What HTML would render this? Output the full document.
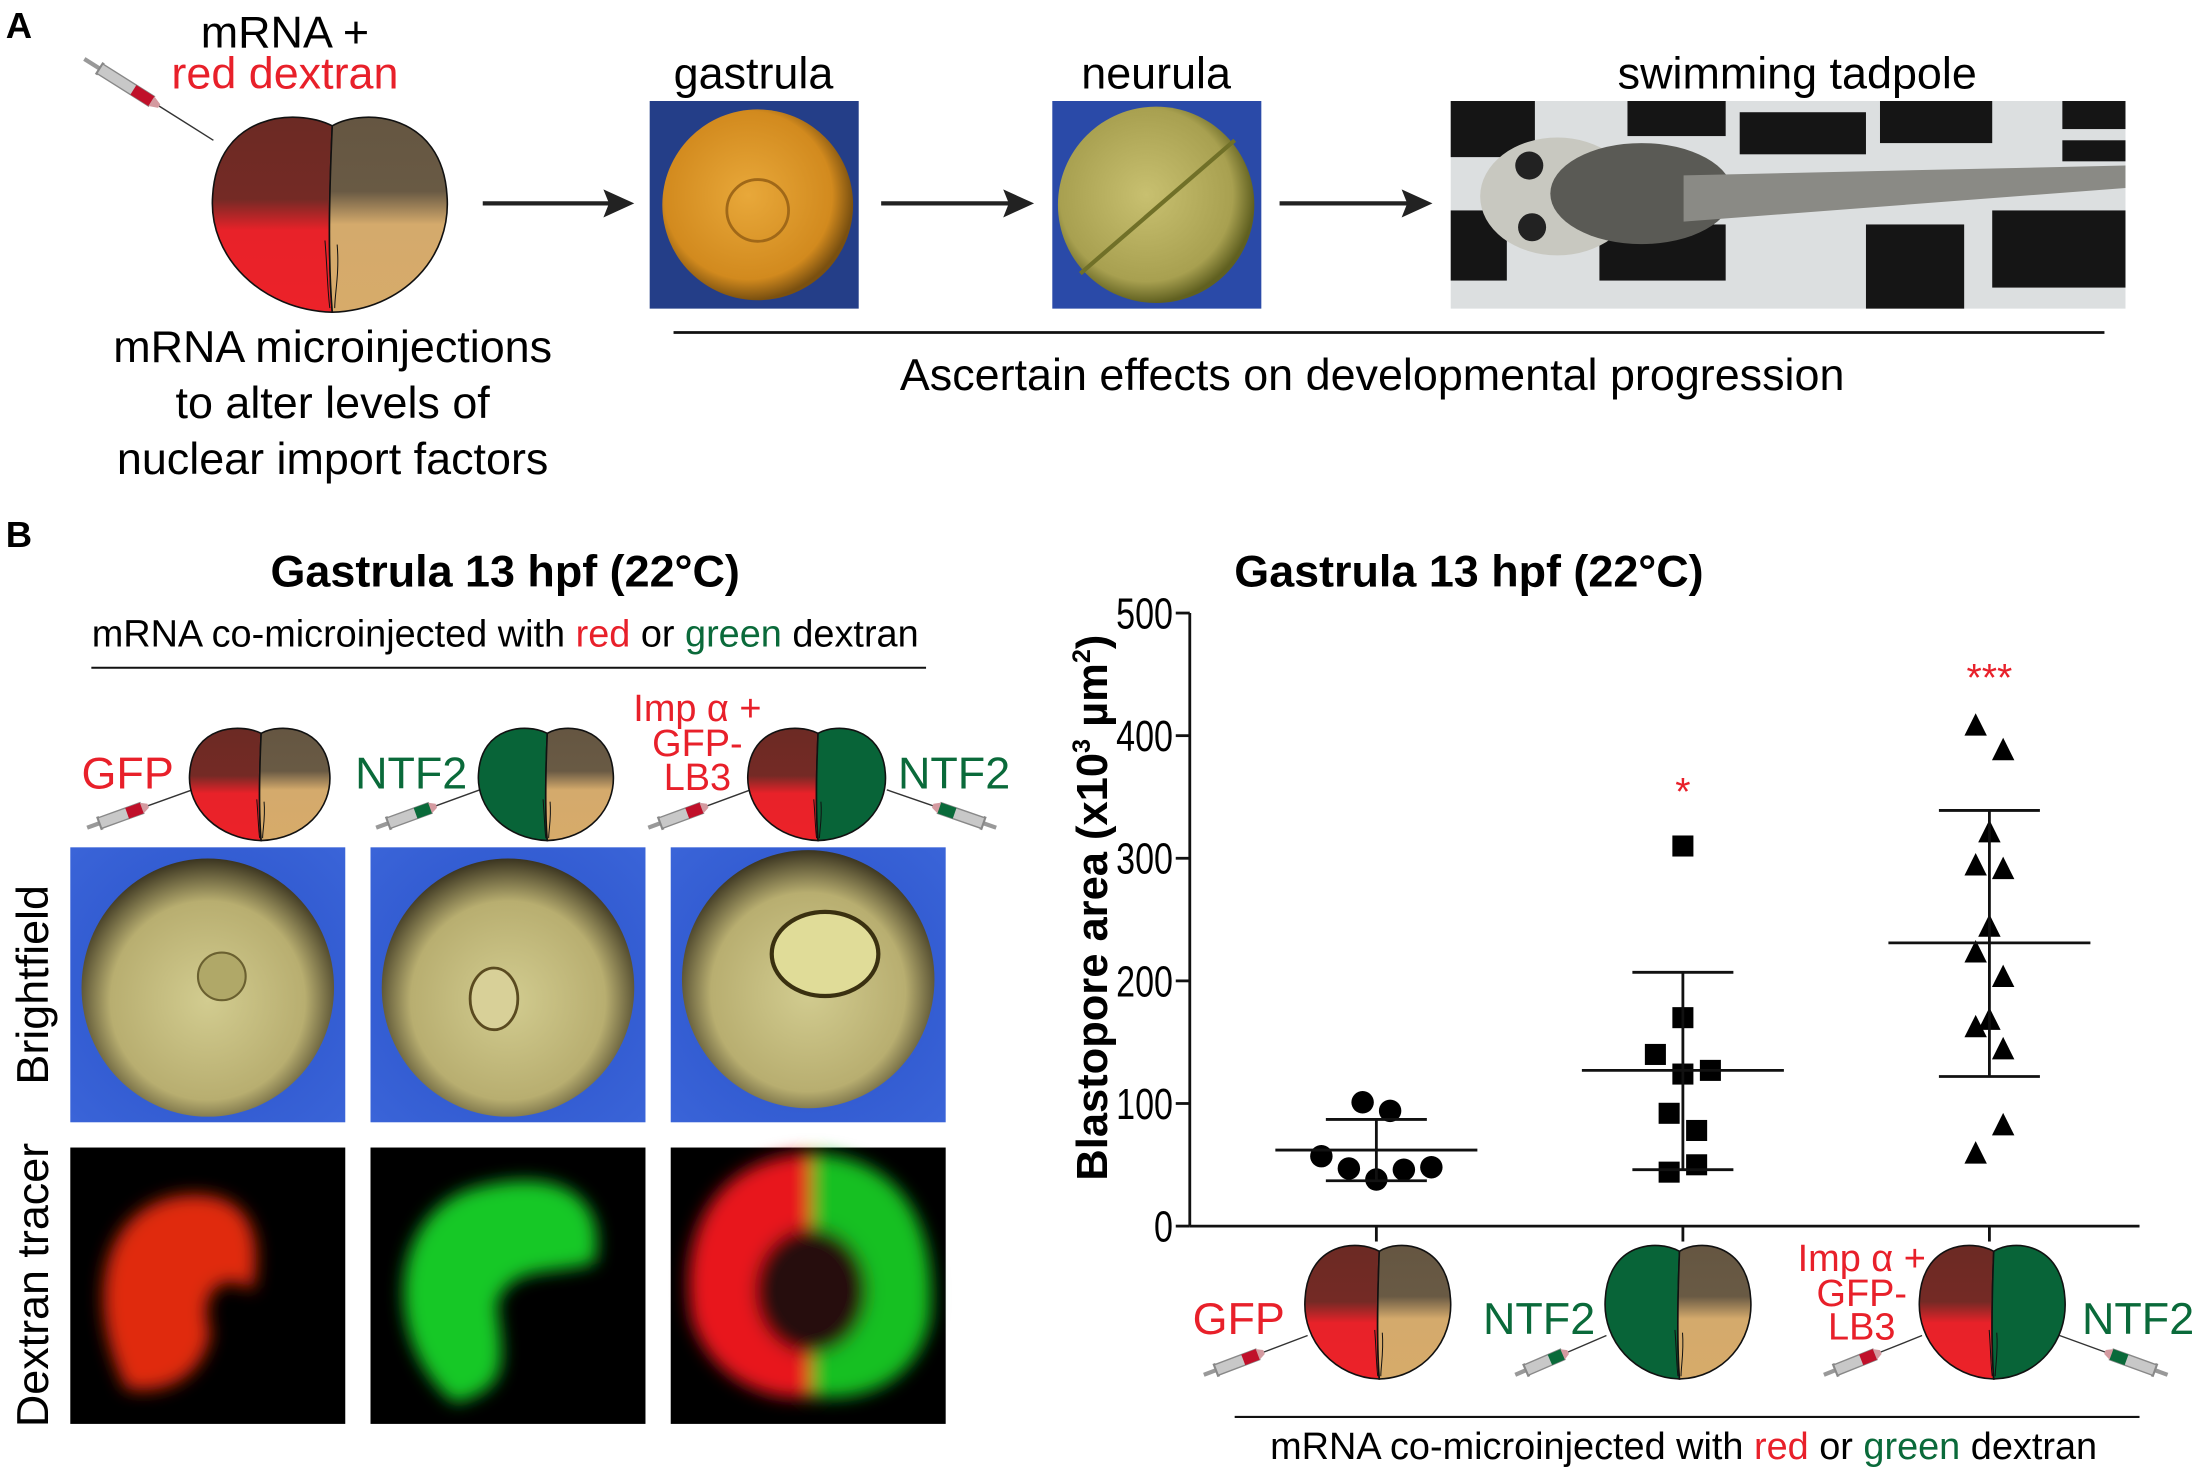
<!DOCTYPE html>
<html><head><meta charset="utf-8"><style>
html,body{margin:0;padding:0;background:#fff}
svg{display:block}
text{font-family:"Liberation Sans",Arial,sans-serif}
</style></head><body>
<svg id="fig" width="2200" height="1473" viewBox="0 0 1568 1050" xmlns="http://www.w3.org/2000/svg">
<defs>
<linearGradient id="gRed" x1="0" y1="0" x2="0" y2="1"><stop offset="0" stop-color="#6c2a24"/><stop offset="0.42" stop-color="#742a25"/><stop offset="0.58" stop-color="#e82229"/><stop offset="1" stop-color="#ec2229"/></linearGradient>
<linearGradient id="gTan" x1="0" y1="0" x2="0" y2="1"><stop offset="0" stop-color="#655642"/><stop offset="0.38" stop-color="#695a44"/><stop offset="0.55" stop-color="#d4aa6c"/><stop offset="1" stop-color="#d7ab6a"/></linearGradient>
<radialGradient id="gGast" cx="0.45" cy="0.45" r="0.55"><stop offset="0" stop-color="#e8a83a"/><stop offset="0.8" stop-color="#d28a1e"/><stop offset="1" stop-color="#7a5010"/></radialGradient>
<radialGradient id="gNeur" cx="0.45" cy="0.45" r="0.55"><stop offset="0" stop-color="#c8c070"/><stop offset="0.8" stop-color="#a8a050"/><stop offset="1" stop-color="#606020"/></radialGradient>
<radialGradient id="gBF" cx="0.5" cy="0.55" r="0.55"><stop offset="0" stop-color="#d2cc90"/><stop offset="0.7" stop-color="#b8ae70"/><stop offset="1" stop-color="#3a3420"/></radialGradient>
<radialGradient id="gBlue" cx="0.5" cy="0.5" r="0.7"><stop offset="0" stop-color="#2850c8"/><stop offset="1" stop-color="#3a64d8"/></radialGradient>
<filter id="blur" x="-20%" y="-20%" width="140%" height="140%"><feGaussianBlur stdDeviation="6"/></filter>
</defs>

<!-- Panel A -->
<text x="4" y="27" font-size="26" font-weight="bold">A</text>
<text x="203" y="34" font-size="32" text-anchor="middle">mRNA +</text>
<text x="203" y="63" font-size="32" text-anchor="middle" fill="#e8202a">red dextran</text>
<g id="embA"></g>
<text font-size="32" text-anchor="middle"><tspan x="237" y="258">mRNA microinjections</tspan><tspan x="237" y="298">to alter levels of</tspan><tspan x="237" y="338">nuclear import factors</tspan></text>

<g stroke="#222" stroke-width="3" fill="#222">
<line x1="344" y1="145" x2="435" y2="145"/><polygon points="452,145 430,135 434,145 430,155" stroke="none"/>
<line x1="628" y1="145" x2="720" y2="145"/><polygon points="737,145 715,135 719,145 715,155" stroke="none"/>
<line x1="912" y1="145" x2="1004" y2="145"/><polygon points="1021,145 999,135 1003,145 999,155" stroke="none"/>
</g>
<text x="537" y="63" font-size="32" text-anchor="middle">gastrula</text>
<text x="824" y="63" font-size="32" text-anchor="middle">neurula</text>
<text x="1281" y="63" font-size="32" text-anchor="middle">swimming tadpole</text>

<g>
<rect x="463" y="72" width="149" height="148" fill="#243e88"/>
<circle cx="540" cy="146" r="68" fill="url(#gGast)"/>
<circle cx="540" cy="150" r="22" fill="none" stroke="#a06818" stroke-width="2"/>
</g>
<g>
<rect x="750" y="72" width="149" height="148" fill="#2a4aa8"/>
<circle cx="824" cy="146" r="70" fill="url(#gNeur)"/>
<line x1="770" y1="195" x2="880" y2="100" stroke="#707028" stroke-width="3"/>
</g>
<g>
<rect x="1034" y="72" width="481" height="148" fill="#dcdfe0"/>
<g fill="#151515">
<rect x="1034" y="72" width="60" height="40"/><rect x="1160" y="72" width="70" height="25"/><rect x="1340" y="72" width="80" height="30"/><rect x="1470" y="72" width="45" height="20"/>
<rect x="1034" y="150" width="40" height="50"/><rect x="1140" y="160" width="90" height="40"/><rect x="1240" y="80" width="90" height="30"/><rect x="1330" y="160" width="70" height="60"/><rect x="1420" y="150" width="95" height="55"/>
<rect x="1470" y="100" width="45" height="15"/>
</g>
<ellipse cx="1110" cy="140" rx="55" ry="42" fill="#c8c8c0"/>
<ellipse cx="1170" cy="138" rx="65" ry="36" fill="#5a5a55"/>
<path d="M1200,125 L1515,118 L1515,134 L1200,158 Z" fill="#8a8a85"/>
<circle cx="1090" cy="118" r="10" fill="#222"/><circle cx="1092" cy="162" r="10" fill="#222"/>
</g>
<line x1="480" y1="237" x2="1500" y2="237" stroke="#111" stroke-width="2"/>
<text x="978" y="278" font-size="32" text-anchor="middle">Ascertain effects on developmental progression</text>

<!-- Panel B left -->
<text x="4" y="390" font-size="26" font-weight="bold">B</text>
<text x="360" y="418" font-size="32" font-weight="bold" text-anchor="middle">Gastrula 13 hpf (22°C)</text>
<text x="360" y="461" font-size="27" text-anchor="middle">mRNA co-microinjected with <tspan fill="#e8202a">red</tspan> or <tspan fill="#0a6a3a">green</tspan> dextran</text>
<line x1="65" y1="476" x2="660" y2="476" stroke="#111" stroke-width="1.5"/>
<text x="58" y="562" font-size="32" fill="#e8202a">GFP</text>
<text x="253" y="562" font-size="32" fill="#0a6a3a">NTF2</text>
<text font-size="27" fill="#e8202a" text-anchor="middle"><tspan x="497" y="514">Imp α +</tspan><tspan x="497" y="539">GFP-</tspan><tspan x="497" y="563">LB3</tspan></text>
<text x="640" y="562" font-size="32" fill="#0a6a3a">NTF2</text>
<g id="embTop"></g>
<text transform="translate(34,702) rotate(-90)" font-size="32" text-anchor="middle">Brightfield</text>
<text transform="translate(34,916) rotate(-90)" font-size="32" text-anchor="middle">Dextran tracer</text>
<g id="photosB"></g>

<!-- Chart -->
<text x="1047" y="418" font-size="32" font-weight="bold" text-anchor="middle">Gastrula 13 hpf (22°C)</text>
<text transform="translate(789,647) rotate(-90)" font-size="31" font-weight="bold" text-anchor="middle">Blastopore area (x10<tspan font-size="18" dy="-12">3</tspan><tspan dy="12"> µm</tspan><tspan font-size="18" dy="-12">2</tspan><tspan dy="12">)</tspan></text>
<g id="chart"></g>
<text x="850" y="951" font-size="32" fill="#e8202a">GFP</text>
<text x="1057" y="951" font-size="32" fill="#0a6a3a">NTF2</text>
<text font-size="27" fill="#e8202a" text-anchor="middle"><tspan x="1327" y="906">Imp α +</tspan><tspan x="1327" y="931">GFP-</tspan><tspan x="1327" y="955">LB3</tspan></text>
<text x="1484" y="951" font-size="32" fill="#0a6a3a">NTF2</text>
<g id="embBot"></g>
<line x1="880" y1="1010" x2="1525" y2="1010" stroke="#111" stroke-width="1.5"/>
<text x="1200" y="1040" font-size="27" text-anchor="middle">mRNA co-microinjected with <tspan fill="#e8202a">red</tspan> or <tspan fill="#0a6a3a">green</tspan> dextran</text>
</svg>
<script>
const categories = ["GFP", "NTF2", "Imp α + GFP-LB3 / NTF2"];
const gfpValues = [101, 94, 57, 47, 38, 46, 48];
const ntf2Values = [310, 170, 140, 124, 127, 92, 78, 50, 44];
const impValues = [408, 388, 321, 294, 291, 244, 223, 203, 168, 162, 144, 82, 59];
const gfpJitter = [-1, 1, -4, -2, 0, 2, 4];
const ntf2Jitter = [0, 0, -2, 0, 2, -1, 1, 1, -1];
const impJitter = [-1, 1, 0, -1, 1, 0, -1, 1, 0, -1, 1, 1, -1];
const means = [62, 127, 231];
const sdUpper = [87, 207, 339];
const sdLower = [37, 46, 122];
const significance = ["", "*", "***"];
const sigValues = [0, 357, 450];
const yTicks = [0, 100, 200, 300, 400, 500];

const NS = "http://www.w3.org/2000/svg";
function mk(tag, attrs, parent){const e=document.createElementNS(NS,tag);for(const k in attrs)e.setAttribute(k,attrs[k]);parent.appendChild(e);return e;}
const yMin=0,yMax=500,yTop=437,yBot=874;
function yScale(v){return yBot-(v-yMin)/(yMax-yMin)*(yBot-yTop);}
const xLeft=848,xRight=1525;
function xScale(i){return 981+i*218.5;}
function jit(j){return j*9.8;}

const chart=document.getElementById('chart');
const ax=mk('line',{x1:xLeft,y1:yTop,x2:xLeft,y2:yBot,stroke:'#111','stroke-width':2},chart);


const bx=mk('line',{x1:xLeft,y1:yBot,x2:xRight,y2:yBot,stroke:'#111','stroke-width':2},chart);


yTicks.forEach(t=>{
  const tk=mk('line',{x1:xLeft-10,y1:yScale(t),x2:xLeft,y2:yScale(t),stroke:'#111','stroke-width':2},chart);
  
  
  const s=String(t);
  const lb=mk('text',{x:xLeft-12,y:yScale(t)+11,'font-size':31,'text-anchor':'end',textLength:s.length*13.5,lengthAdjust:'spacingAndGlyphs'},chart);
  lb.textContent=s;
  
  
});
categories.forEach((c,i)=>{
  const tk=mk('line',{x1:xScale(i),y1:yBot,x2:xScale(i),y2:yBot+11,stroke:'#111','stroke-width':2},chart);
  
  
});
const series=[gfpValues,ntf2Values,impValues];
const jitters=[gfpJitter,ntf2Jitter,impJitter];
series.forEach((vals,i)=>{
  const cx=xScale(i);
  const g=mk('g',{},chart);
  
  
  vals.forEach((v,k)=>{
    const x=cx+jit(jitters[i][k]),y=yScale(v);
    let p;
    if(i===0)p=mk('circle',{cx:x,cy:y,r:8,fill:'#000'},g);
    else if(i===1)p=mk('rect',{x:x-7.5,y:y-7.5,width:15,height:15,fill:'#000'},g);
    else p=mk('polygon',{points:`${x},${y-9} ${x-8},${y+7} ${x+8},${y+7}`,fill:'#000'},g);
    
    
  });
  const eb=mk('g',{stroke:'#111','stroke-width':2},chart);
  
  
  mk('line',{x1:cx,y1:yScale(sdUpper[i]),x2:cx,y2:yScale(sdLower[i])},eb);
  mk('line',{x1:cx-36,y1:yScale(sdUpper[i]),x2:cx+36,y2:yScale(sdUpper[i])},eb);
  mk('line',{x1:cx-36,y1:yScale(sdLower[i]),x2:cx+36,y2:yScale(sdLower[i])},eb);
  const ml=mk('line',{x1:cx-72,y1:yScale(means[i]),x2:cx+72,y2:yScale(means[i])},eb);
  
  
  if(significance[i]){
    const s=mk('text',{x:cx,y:yScale(sigValues[i])+12,'font-size':28,'text-anchor':'middle',fill:'#e8202a'},chart);
    s.textContent=significance[i];
    
    
  }
});

// embryo icons
function embryo(parent,x,y,w,h,left,right,name){
  const g=mk('g',{transform:`translate(${x},${y}) scale(${w/100},${h/100})`},parent);
  
  
  mk('path',{d:'M51,8 C36,-1 4,2 2,42 C0,72 22,98 51,99 C49,70 50,35 51,8 Z',fill:left,stroke:'#111','stroke-width':1.6,'vector-effect':'non-scaling-stroke'},g);
  mk('path',{d:'M51,8 C64,-1 96,2 98,42 C100,72 80,98 51,99 C49,70 50,35 51,8 Z',fill:right,stroke:'#111','stroke-width':1.6,'vector-effect':'non-scaling-stroke'},g);
  mk('path',{d:'M48,64 C49,78 49,88 50,97 M53,66 C54,80 52,90 52,97',fill:'none',stroke:'#111','stroke-width':1,'vector-effect':'non-scaling-stroke'},g);
}
function syringe(parent,x1,y1,x2,y2,color,name){
  const len=Math.hypot(x2-x1,y2-y1),ang=Math.atan2(y2-y1,x2-x1)*180/Math.PI;
  const g=mk('g',{transform:`translate(${x1},${y1}) rotate(${ang})`},parent);
  
  
  const s=len/100;
  mk('line',{x1:0,y1:0,x2:12*s,y2:0,stroke:'#999','stroke-width':3},g);
  mk('line',{x1:12*s,y1:-5,x2:12*s,y2:5,stroke:'#888','stroke-width':2},g);
  mk('rect',{x:12*s,y:-4,width:40*s,height:8,fill:'#c8c8c8',stroke:'#888','stroke-width':1},g);
  mk('rect',{x:38*s,y:-4,width:14*s,height:8,fill:color},g);
  mk('polygon',{points:`${52*s},-4 ${58*s},-1.5 ${58*s},1.5 ${52*s},4`,fill:'#d49aa0'},g);
  mk('line',{x1:58*s,y1:0,x2:len,y2:0,stroke:'#333','stroke-width':1},g);
}
const embA=document.getElementById('embA');
syringe(embA,60,42,152,100,'#c0102a','syringe-a');
embryo(embA,148,78,174,146,'url(#gRed)','url(#gTan)','embryo-a');
const embTop=document.getElementById('embTop');
syringe(embTop,62,590,137,563,'#c0102a','syringe-gfp-top');
embryo(embTop,133,516,104,84,'url(#gRed)','url(#gTan)','embryo-gfp-top');
syringe(embTop,268,590,342,563,'#0a6a3a','syringe-ntf2-top');
embryo(embTop,339,516,100,84,'#086438','url(#gTan)','embryo-ntf2-top');
syringe(embTop,462,590,535,563,'#c0102a','syringe-imp-top');
syringe(embTop,710,590,632,563,'#0a6a3a','syringe-ntf2r-top');
embryo(embTop,531,516,102,84,'url(#gRed)','#086438','embryo-imp-top');
const embBot=document.getElementById('embBot');
syringe(embBot,858,980,932,952,'#c0102a','syringe-gfp-bottom');
embryo(embBot,928,884,108,100,'url(#gRed)','url(#gTan)','embryo-gfp-bottom');
syringe(embBot,1080,980,1145,952,'#0a6a3a','syringe-ntf2-bottom');
embryo(embBot,1142,884,108,100,'#086438','url(#gTan)','embryo-ntf2-bottom');
syringe(embBot,1300,980,1370,952,'#c0102a','syringe-imp-bottom');
syringe(embBot,1545,980,1468,952,'#0a6a3a','syringe-ntf2r-bottom');
embryo(embBot,1366,884,108,100,'url(#gRed)','#086438','embryo-imp-bottom');

// photos panel B
const ph=document.getElementById('photosB');
const cols=[50,264,478];
cols.forEach((x,i)=>{
  const g=mk('g',{},ph);
  
  
  mk('rect',{x:x,y:604,width:196,height:196,fill:'url(#gBlue)'},g);
  mk('ellipse',{cx:x+98,cy:702+(i===2?-4:2),rx:90,ry:92,fill:'url(#gBF)'},g);
  if(i===0)mk('circle',{cx:x+108,cy:696,r:17,fill:'#b0a868',stroke:'#6a6030','stroke-width':1.5},g);
  if(i===1)mk('ellipse',{cx:x+88,cy:712,rx:17,ry:22,fill:'#d8d098',stroke:'#5a4a20','stroke-width':2},g);
  if(i===2)mk('ellipse',{cx:x+110,cy:680,rx:38,ry:30,fill:'#e0dc98',stroke:'#3a3010','stroke-width':3},g);
  const d=mk('g',{},ph);
  
  
  mk('rect',{x:x,y:818,width:196,height:197,fill:'#000'},d);
  const fg=mk('g',{filter:'url(#blur)'},d);
  if(i===0){mk('path',{d:`M${x+40},${990} C${x+10},${930} ${x+20},${860} ${x+80},${852} C${x+120},${848} ${x+140},${870} ${x+130},${920} C${x+110},${905} ${x+90},${920} ${x+100},${950} C${x+95},${980} ${x+70},${995} ${x+40},${990} Z`,fill:'#e02a10'},fg);}
  if(i===1){mk('path',{d:`M${x+60},${1000} C${x+10},${960} ${x+10},${870} ${x+70},${848} C${x+130},${830} ${x+170},${850} ${x+160},${900} C${x+130},${910} ${x+100},${900} ${x+90},${930} C${x+95},${970} ${x+100},${990} ${x+60},${1000} Z`,fill:'#18c828'},fg);}
  if(i===2){mk('path',{d:`M${x+100},${822} C${x+30},${825} ${x+5},${880} ${x+15},${940} C${x+30},${990} ${x+80},${1000} ${x+100},${995} L${x+100},${822} Z`,fill:'#e8141a'},fg);
    mk('path',{d:`M${x+100},${822} C${x+170},${825} ${x+190},${880} ${x+185},${940} C${x+175},${990} ${x+130},${1000} ${x+100},${995} L${x+100},${822} Z`,fill:'#18c020'},fg);
    mk('ellipse',{cx:x+100,cy:920,rx:40,ry:45,fill:'#280808'},fg);}
});
</script>
</body></html>
